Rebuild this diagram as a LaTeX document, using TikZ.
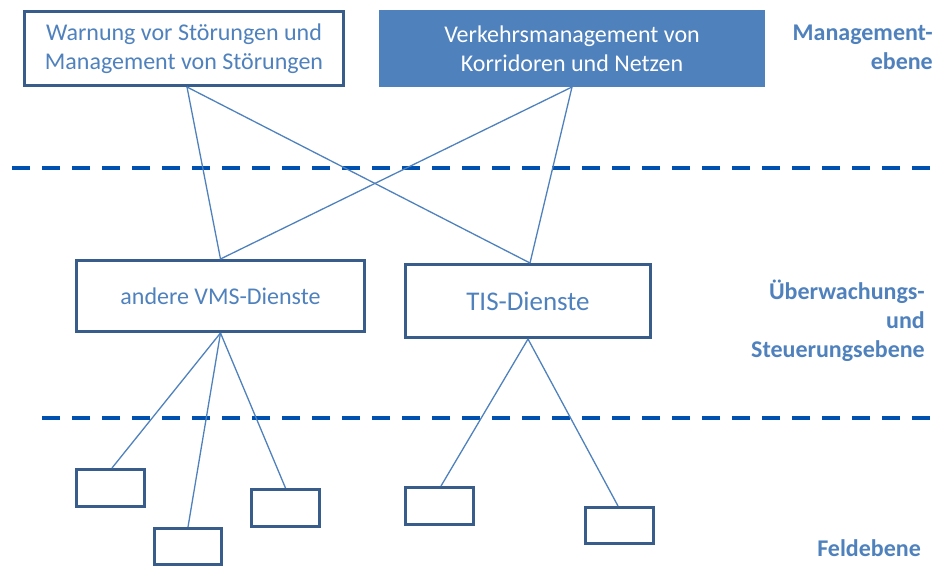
\documentclass[tikz,border=0pt]{standalone}
\usepackage{fontspec}
\setmainfont{Carlito}
\definecolor{txtblue}{RGB}{79,129,189}
\definecolor{bordblue}{RGB}{56,93,138}
\definecolor{dashblue}{RGB}{0,80,175}
\tikzset{
  box/.style={draw=bordblue, line width=3pt, rectangle, inner sep=0pt, text=txtblue, align=center,
     font=\fontsize{24}{29}\selectfont},
  fbox/.style={fill=txtblue, draw=txtblue, line width=1pt, rectangle, inner sep=0pt, text=white, align=center,
     font=\fontsize{24}{29}\selectfont},
  conn/.style={draw=txtblue, line width=1.3pt},
  level/.style={draw=dashblue, line width=3.5pt, dash pattern=on 18pt off 12pt},
  lvl/.style={text=txtblue, font=\bfseries\fontsize{24}{29}\selectfont, align=right, anchor=east, inner sep=0pt}
}
\begin{document}
\begin{tikzpicture}[x=1pt,y=-1pt]
\useasboundingbox (0,0) rectangle (936,567);
% boxes
\node[box, minimum width=319pt, minimum height=74pt] (A) at (184,48.5) {Warnung vor Störungen und\\Management von Störungen};
\node[fbox, minimum width=385pt, minimum height=76pt] (B) at (572,48.5) {Verkehrsmanagement von\\Korridoren und Netzen};
\node[box, minimum width=288pt, minimum height=71pt] (C) at (220.5,296) {andere VMS-Dienste};
\node[box, minimum width=245pt, minimum height=73pt, font=\fontsize{27}{32}\selectfont] (D) at (528,301) {TIS-Dienste};
\node[box, minimum width=68pt, minimum height=37pt] (E1) at (110.5,488) {};
\node[box, minimum width=67pt, minimum height=36pt] (E2) at (188,546.5) {};
\node[box, minimum width=68pt, minimum height=37pt] (E3) at (285.5,508) {};
\node[box, minimum width=68pt, minimum height=37pt] (E4) at (439.5,506) {};
\node[box, minimum width=68pt, minimum height=36pt] (E5) at (619.5,525.5) {};
% level separators
\coordinate (L1a) at (12,168); \coordinate (L1b) at (936,168);
\coordinate (L2a) at (42,418); \coordinate (L2b) at (936,418);
\draw[level] (L1a) -- (L1b);
\draw[level] (L2a) -- (L2b);
% connectors
\draw[conn] ([xshift=3pt]A.south) -- (C.north);
\draw[conn] ([xshift=3pt]A.south) -- ([xshift=2pt]D.north);
\draw[conn] (B.south) -- (C.north);
\draw[conn] (B.south) -- ([xshift=2pt]D.north);
\draw[conn] (C.south) -- ([xshift=1.5pt]E1.north);
\draw[conn] (C.south) -- (E2.north);
\draw[conn] (C.south) -- (E3.north);
\draw[conn] (D.south) -- ([xshift=1.5pt]E4.north);
\draw[conn] (D.south) -- ([xshift=-1.5pt]E5.north);
% level labels
\node[lvl] (LM) at (933,47.5) {Management-\\ebene};
\node[lvl] (LU) at (925,320.5) {Überwachungs-\\und\\Steuerungsebene};
\node[lvl] (LF) at (921,548) {Feldebene};
\end{tikzpicture}
\end{document}
